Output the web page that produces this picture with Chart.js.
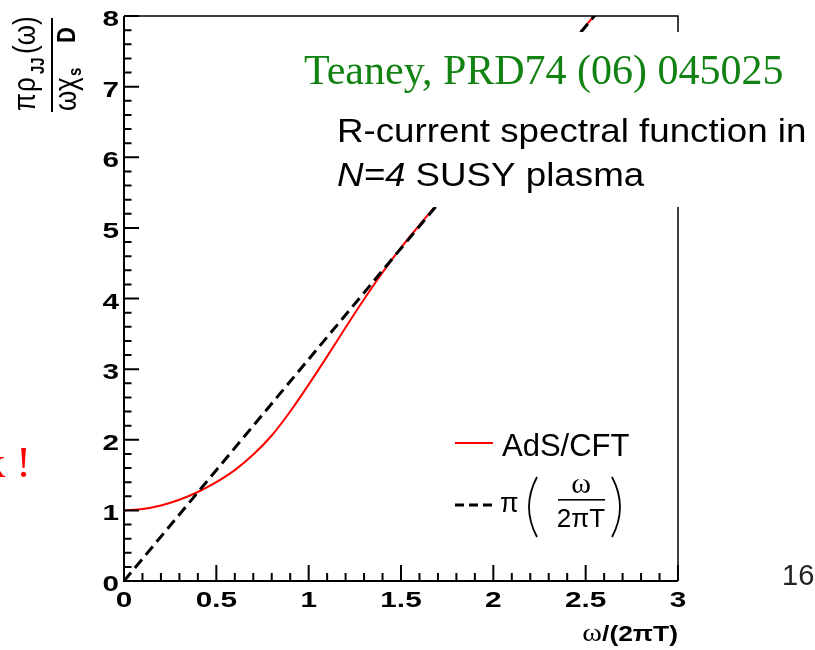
<!DOCTYPE html>
<html>
<head>
<meta charset="utf-8">
<script src="https://cdn.jsdelivr.net/npm/chart.js@4.4.0/dist/chart.umd.min.js"></script>
<style>
html, body { margin: 0; padding: 0; background: #fff; }
canvas { display: block; }
</style>
</head>
<body>
<canvas id="spectral" width="815" height="650"></canvas>
<script>
// AdS/CFT R-current spectral function
const adsX = [0, 0.1, 0.2, 0.3, 0.4, 0.5, 0.6, 0.7, 0.8, 0.9, 1.0, 1.1, 1.2, 1.3, 1.4, 1.5, 1.6, 1.7, 1.8, 1.9, 2.0, 2.1, 2.2, 2.3, 2.4, 2.5, 2.6];
const adsY = [1.00, 1.02, 1.07, 1.15, 1.26, 1.40, 1.57, 1.79, 2.06, 2.40, 2.78, 3.18, 3.59, 3.99, 4.37, 4.72, 5.04, 5.35, 5.66, 5.97, 6.28, 6.60, 6.91, 7.23, 7.54, 7.86, 8.17];
// free line pi*(w/2piT)
const freeX = [0, 1, 2, 2.55];
const freeY = [0, 3.14, 6.28, 8.01];

const xTicks = [0, 0.5, 1, 1.5, 2, 2.5, 3];
const xTickLabels = ['0', '0.5', '1', '1.5', '2', '2.5', '3'];
const yTicks = [0, 1, 2, 3, 4, 5, 6, 7, 8];
const yTickLabels = ['0', '1', '2', '3', '4', '5', '6', '7', '8'];

const SANS = '"Liberation Sans", Arial, Helvetica, sans-serif';
const SERIF = '"Liberation Serif", "Times New Roman", serif';

function toPoints(xs, ys) {
    return xs.map((x, i) => ({ x: x, y: ys[i] }));
}

// text stretched horizontally like the original bitmap
function wideText(ctx, text, x, y, sx, align) {
    ctx.save();
    ctx.translate(x, y);
    ctx.scale(sx, 1);
    ctx.textAlign = align || 'left';
    ctx.fillText(text, 0, 0);
    ctx.restore();
}

const rootStyle = {
    id: 'rootStyle',
    afterDatasetsDraw(chart) {
        const ctx = chart.ctx;
        const a = chart.chartArea;
        const xs = chart.scales.x;
        const ys = chart.scales.y;
        ctx.save();
        ctx.strokeStyle = '#000';
        ctx.fillStyle = '#000';

        // frame
        ctx.lineWidth = 1.5;
        ctx.beginPath();
        ctx.moveTo(a.left, a.top);
        ctx.lineTo(a.right, a.top);
        ctx.lineTo(a.right, a.bottom);
        ctx.stroke();
        ctx.lineWidth = 2;
        ctx.beginPath();
        ctx.moveTo(a.left, a.top);
        ctx.lineTo(a.left, a.bottom);
        ctx.lineTo(a.right, a.bottom);
        ctx.stroke();

        // inward ticks, 5 minor divisions
        ctx.beginPath();
        for (let i = 0; i < xTicks.length; i++) {
            const step = i < xTicks.length - 1 ? (xTicks[i + 1] - xTicks[i]) / 5 : 0;
            for (let k = 0; k < (step ? 5 : 1); k++) {
                const px = xs.getPixelForValue(xTicks[i] + k * step);
                ctx.moveTo(px, a.bottom);
                ctx.lineTo(px, a.bottom - (k === 0 ? 16 : 8));
            }
        }
        for (let i = 0; i < yTicks.length; i++) {
            const step = i < yTicks.length - 1 ? (yTicks[i + 1] - yTicks[i]) / 5 : 0;
            for (let k = 0; k < (step ? 5 : 1); k++) {
                const py = ys.getPixelForValue(yTicks[i] + k * step);
                ctx.moveTo(a.left, py);
                ctx.lineTo(a.left + (k === 0 ? 15 : 7.5), py);
            }
        }
        ctx.stroke();

        // tick labels
        ctx.font = 'bold 22px ' + SANS;
        ctx.textBaseline = 'middle';
        xTicks.forEach((v, i) => {
            wideText(ctx, xTickLabels[i], xs.getPixelForValue(v), 601, 1.35, 'center');
        });
        yTicks.forEach((v, i) => {
            wideText(ctx, yTickLabels[i], a.left - 5, ys.getPixelForValue(v) + 4, 1.35, 'right');
        });

        // x title  w/(2piT)
        ctx.textBaseline = 'alphabetic';
        ctx.save();
        ctx.translate(a.right, 641);
        ctx.scale(1.2, 1);
        ctx.font = 'bold 22px ' + SANS;
        const restW = ctx.measureText('/(2\u03c0T)').width;
        ctx.textAlign = 'right';
        ctx.fillText('/(2\u03c0T)', 0, 0);
        ctx.font = '25px ' + SERIF;
        ctx.fillText('\u03c9', -restW, 0);
        ctx.restore();

        // y title, rotated fraction
        ctx.fillRect(51, 18, 2, 94);
        ctx.save();
        ctx.translate(52, 65);
        ctx.rotate(-Math.PI / 2);
        ctx.scale(1, 1.2);
        ctx.textAlign = 'left';
        ctx.font = '26px ' + SANS;
        ctx.fillText('\u03c0', -46, -14);
        ctx.fillText('\u03c1', -27, -14);
        ctx.font = 'bold 15px ' + SANS;
        ctx.fillText('JJ', -9, -7);
        ctx.font = '26px ' + SANS;
        ctx.fillText('(\u03c9)', 11, -14);
        ctx.fillText('\u03c9', -46, 20);
        ctx.fillText('\u03c7', -26, 20);
        ctx.font = 'bold 15px ' + SANS;
        ctx.fillText('s', -11, 24);
        ctx.font = 'bold 22px ' + SANS;
        ctx.fillText('D', 22, 19);
        ctx.restore();

        // white label box hiding part of the curves
        ctx.fillStyle = '#fff';
        ctx.fillRect(298, 32, 520, 175);

        ctx.fillStyle = 'rgb(18,130,18)';
        ctx.font = '42px ' + SERIF;
        ctx.textAlign = 'left';
        ctx.fillText('Teaney, PRD74 (06) 045025', 304, 84);

        ctx.fillStyle = '#000';
        ctx.font = '34px ' + SANS;
        wideText(ctx, 'R-current spectral function in', 337, 142, 1.08, 'left');
        ctx.font = 'italic 34px ' + SANS;
        const nW = ctx.measureText('N=4').width * 1.08;
        wideText(ctx, 'N=4', 337, 186, 1.08, 'left');
        ctx.font = '34px ' + SANS;
        wideText(ctx, ' SUSY plasma', 337 + nW, 186, 1.08, 'left');

        // legend
        const red = chart.data.datasets[1];
        const free = chart.data.datasets[0];
        ctx.strokeStyle = red.borderColor;
        ctx.lineWidth = 2;
        ctx.beginPath();
        ctx.moveTo(455, 443);
        ctx.lineTo(493, 443);
        ctx.stroke();
        ctx.fillStyle = '#000';
        ctx.font = '31px ' + SANS;
        ctx.fillText(red.label, 502, 456);

        ctx.strokeStyle = free.borderColor;
        ctx.lineWidth = 3;
        ctx.setLineDash([9, 5]);
        ctx.beginPath();
        ctx.moveTo(455, 505);
        ctx.lineTo(493, 505);
        ctx.stroke();
        ctx.setLineDash([]);
        ctx.font = '27px ' + SANS;
        ctx.fillText('\u03c0', 500, 512);
        ctx.lineWidth = 1.8;
        ctx.beginPath();
        ctx.moveTo(537, 477);
        ctx.quadraticCurveTo(521, 507, 537, 537);
        ctx.moveTo(612, 477);
        ctx.quadraticCurveTo(628, 507, 612, 537);
        ctx.stroke();
        ctx.textAlign = 'center';
        ctx.font = '30px ' + SERIF;
        ctx.fillText('\u03c9', 581, 493);
        ctx.fillRect(558, 499, 47, 1.6);
        ctx.font = '26px ' + SANS;
        ctx.fillText('2\u03c0T', 581, 527);

        // slide leftovers around the plot
        ctx.textAlign = 'right';
        ctx.fillStyle = '#ff0000';
        ctx.font = '44px ' + SERIF;
        ctx.fillText('k !', 31, 477);
        ctx.textAlign = 'left';
        ctx.fillStyle = '#222';
        ctx.font = '29px ' + SANS;
        ctx.fillText('16', 782, 585);
        ctx.restore();
    }
};

new Chart(document.getElementById('spectral'), {
    type: 'line',
    data: {
        datasets: [{
            label: 'free',
            data: toPoints(freeX, freeY),
            borderColor: '#000',
            borderWidth: 3,
            borderDash: [11, 6],
            pointRadius: 0,
            fill: false
        }, {
            label: 'AdS/CFT',
            data: toPoints(adsX, adsY),
            borderColor: '#ff0000',
            borderWidth: 2,
            pointRadius: 0,
            cubicInterpolationMode: 'monotone',
            fill: false
        }]
    },
    options: {
        responsive: false,
        animation: false,
        devicePixelRatio: 1,
        layout: {
            padding: { left: 124, top: 16, right: 137, bottom: 69 }
        },
        scales: {
            x: { type: 'linear', min: 0, max: 3, display: false },
            y: { type: 'linear', min: 0, max: 8, display: false }
        },
        plugins: {
            legend: { display: false },
            tooltip: { enabled: false }
        }
    },
    plugins: [rootStyle]
});
</script>
</body>
</html>
